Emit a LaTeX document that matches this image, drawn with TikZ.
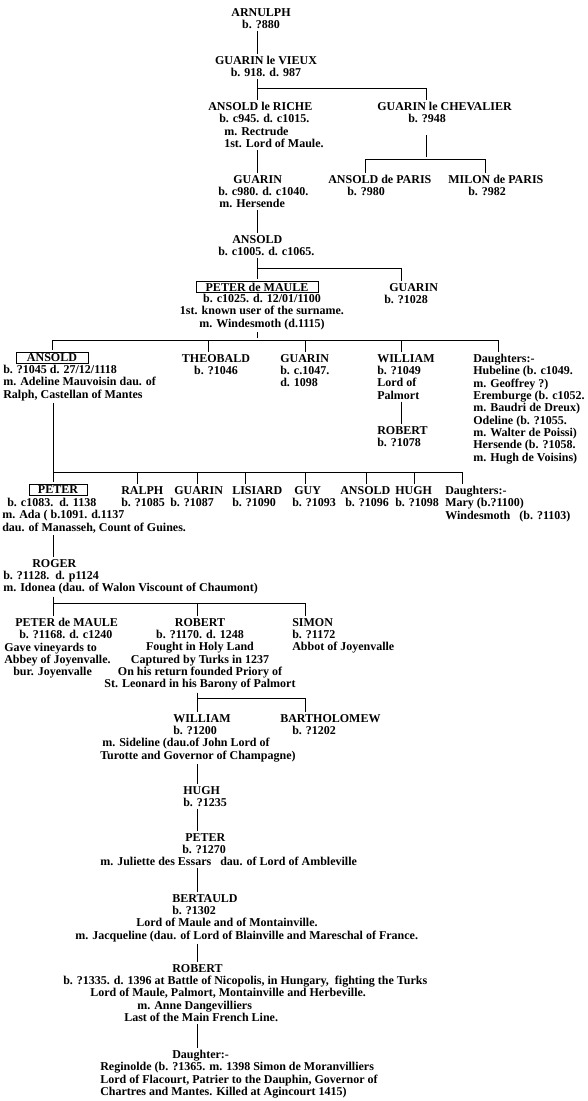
\documentclass[tikz,border=0pt]{standalone}
\usepackage{fontspec}
\setmainfont{Liberation Serif}
\usepackage{tikz}

% one screen pixel of the old chart
\newlength{\pxu}
\setlength{\pxu}{0.75pt}
\newcommand{\ind}[1]{\hspace*{#1\pxu}}

\begin{document}
\begin{tikzpicture}[
    x=0.75pt, y=-0.75pt,
    person/.style={inner sep=0pt, align=left, anchor=north west, font=\bfseries\fontsize{9}{9.25}\selectfont},
    centred/.style={person, align=center, anchor=north},
    namebox/.style={draw, line width=0.75pt, inner sep=0pt, minimum height=8.5pt, font=\bfseries\fontsize{9}{9.25}\selectfont},
    link/.style={line width=0.75pt, shorten >=1.5pt},
    stem/.style={link, shorten <=1.5pt}
]
\useasboundingbox (0,0) rectangle (588,1101);

% stem columns
\coordinate (x52)  at (52,0);
\coordinate (x53)  at (53,0);
\coordinate (x137) at (137,0);
\coordinate (x197) at (197,0);
\coordinate (x208) at (208,0);
\coordinate (x245) at (245,0);
\coordinate (x257) at (257,0);
\coordinate (x305) at (305,0);
\coordinate (x365) at (365,0);
\coordinate (x366) at (366,0);
\coordinate (x401) at (401,0);
\coordinate (x414) at (414,0);
\coordinate (x426) at (426,0);
\coordinate (x462) at (462,0);
\coordinate (x485) at (485,0);
\coordinate (x498) at (498,0);

% first generations
\node[centred] (arnulph) at (261,8) {ARNULPH\\b. ?880};
\node[centred] (vieux) at (266,56) {GUARIN le VIEUX\\b. 918. d. 987};
\node[person] (riche) at (208,102) {ANSOLD le RICHE\\\ind{11}b. c945. d. c1015.\\\ind{16}m. Rectrude\\\ind{16}1st. Lord of Maule.};
\node[person] (chevalier) at (377,102) {GUARIN le CHEVALIER\\\ind{31}b. ?948};
\node[person] (ansoldparis) at (328,175) {ANSOLD de PARIS\\\ind{19}b. ?980};
\node[person] (milon) at (448,175) {MILON de PARIS\\\ind{20}b. ?982};
\node[person] (guarin980) at (218,175) {\ind{15}GUARIN\\b. c980. d. c1040.\\\ind{1}m. Hersende};
\node[person] (ansold1005) at (218,235) {\ind{14}ANSOLD\\b. c1005. d. c1065.};

\draw[stem] (arnulph.south -| x257) -- (vieux.north -| x257);
\coordinate (bus1) at (257,88);
\draw[stem] (vieux.south -| x257) -- (bus1) -| (chevalier.north -| x426);
\draw[link] (bus1) -- (riche.north -| x257);
\coordinate (bus2) at (426,159);
\draw[stem, shorten <=9pt] (chevalier.south -| x426) -- (bus2);
\draw[link] (bus2) -| (ansoldparis.north -| x365);
\draw[link] (bus2) -| (milon.north -| x485);
\draw[stem] (riche.south -| x257) -- (guarin980.north -| x257);
\draw[stem] (guarin980.south -| x257) -- (ansold1005.north -| x257);

% Peter de Maule and brother
\node[namebox, minimum width=91.5pt] (peter1025) at (257,287) {PETER de MAULE};
\node[centred] (peter1025info) at (262,294) {b. c1025. d. 12/01/1100\\1st. known user of the surname.\\m. Windesmoth (d.1115)};
\node[person] (guarin1028) at (384,283) {\ind{5}GUARIN\\b. ?1028};

\coordinate (bus3) at (257,268);
\draw[stem] (ansold1005.south -| x257) -- (peter1025.north);
\draw[link] (bus3) -| (guarin1028.north -| x401);

% children of Peter
\node[namebox, minimum width=54pt] (ansold1045) at (52,358) {ANSOLD};
\node[person] (ansold1045info) at (3,365) {b. ?1045 d. 27/12/1118\\m. Adeline Mauvoisin dau. of\\Ralph, Castellan of Mantes};
\node[centred] (theobald) at (216,354) {THEOBALD\\b. ?1046};
\node[person] (guarin1047) at (280,354) {GUARIN\\b. c.1047.\\d. 1098};
\node[person] (william1049) at (377,354) {WILLIAM\\b. ?1049\\Lord of\\Palmort};
\node[person] (robert1078) at (377,426) {ROBERT\\b. ?1078};
\node[person] (daughters1049) at (473,354) {Daughters:-\\Hubeline (b. c1049.\\m. Geoffrey ?)\\Eremburge (b. c1052.\\m. Baudri de Dreux)\\Odeline (b. ?1055.\\m. Walter de Poissi)\\Hersende (b. ?1058.\\m. Hugh de Voisins)};

\coordinate (bus4) at (257,340);
\draw[stem] (peter1025info.south -| x257) -- (bus4);
\draw[link] (bus4) -| (ansold1045.north -| x52);
\draw[link] (bus4) -| (theobald.north -| x208);
\draw[link] (bus4) -| (guarin1047.north -| x305);
\draw[link] (bus4) -| (william1049.north -| x401);
\draw[link] (bus4) -| (daughters1049.north -| x498);
\draw[stem] (william1049.south -| x401) -- (robert1078.north -| x401);

% children of Ansold
\node[namebox, minimum width=43.5pt] (peter1083) at (58,490) {PETER};
\node[person] (peter1083info) at (2,498) {\ind{5}b. c1083.\ \ d. 1138\\m. Ada ( b.1091. d.1137\\dau. of Manasseh, Count of Guines.};
\node[person] (ralph) at (121,486) {RALPH\\b. ?1085};
\node[person] (guarin1087) at (170,486) {\ind{4}GUARIN\\b. ?1087};
\node[person] (lisiard) at (232,486) {LISIARD\\b. ?1090};
\node[person] (guy) at (292,486) {\ind{2}GUY\\b. ?1093};
\node[person] (ansold1096) at (340,486) {ANSOLD\\\ind{5}b. ?1096};
\node[person] (hugh1098) at (395,486) {HUGH\\b. ?1098};
\node[person] (daughters1100) at (445,486) {Daughters:-\\Mary (b.?1100)\\Windesmoth\ \ \ (b. ?1103)};

\coordinate (bus5) at (53,472);
\draw[stem] (ansold1045info.south -| x53) -- (peter1083.north -| x53);
\draw[link] (bus5) -| (ralph.north -| x137);
\draw[link] (bus5) -| (guarin1087.north -| x197);
\draw[link] (bus5) -| (lisiard.north -| x245);
\draw[link] (bus5) -| (guy.north -| x305);
\draw[link] (bus5) -| (ansold1096.north -| x366);
\draw[link] (bus5) -| (hugh1098.north -| x414);
\draw[link] (bus5) -| (daughters1100.north -| x462);

% Roger and his sons
\node[person] (roger) at (3,559) {\ind{29}ROGER\\b. ?1128.\ \ d. p1124\\m. Idonea (dau. of Walon Viscount of Chaumont)};
\draw[stem] (peter1083info.south -| x53) -- (roger.north -| x53);

\node[person] (peter1168) at (4,618) {\ind{11}PETER de MAULE\\\ind{15}b. ?1168. d. c1240\\Gave vineyards to\\Abbey of Joyenvalle.\\\ind{9}bur. Joyenvalle};
\node[centred] (robert1170) at (200,618) {ROBERT\\b. ?1170. d. 1248\\Fought in Holy Land\\Captured by Turks in 1237\\On his return founded Priory of\\St. Leonard in his Barony of Palmort};
\node[person] (simon) at (292,618) {SIMON\\b. ?1172\\Abbot of Joyenvalle};

\coordinate (bus6) at (53,603);
\draw[stem] (roger.south -| x53) -- (peter1168.north -| x53);
\draw[link] (bus6) -| (robert1170.north -| x197);
\draw[link] (bus6) -| (simon.north -| x305);

% main line down to the last daughter
\node[person] (william1200) at (100,714) {\ind{73}WILLIAM\\\ind{73}b. ?1200\\\ind{2}m. Sideline (dau.of John Lord of\\Turotte and Governor of Champagne)};
\node[person] (bartholomew) at (280,714) {BARTHOLOMEW\\\ind{12}b. ?1202};
\node[person] (hugh1235) at (183,786) {HUGH\\b. ?1235};
\node[person] (peter1270) at (100,833) {\ind{85}PETER\\\ind{82}b. ?1270\\m. Juliette des Essars\ \ \ dau. of Lord of Ambleville};
\node[person] (bertauld) at (75,894) {\ind{97}BERTAULD\\\ind{97}b. ?1302\\\ind{61}Lord of Maule and of Montainville.\\m. Jacqueline (dau. of Lord of Blainville and Mareschal of France.};
\node[person] (robert1335) at (63,964) {\ind{109}ROBERT\\b. ?1335. d. 1396 at Battle of Nicopolis, in Hungary,\ \ fighting the Turks\\\ind{27}Lord of Maule, Palmort, Montainville and Herbeville.\\\ind{74}m. Anne Dangevilliers\\\ind{61}Last of the Main French Line.};
\node[person] (reginolde) at (100,1050) {\ind{72}Daughter:-\\Reginolde (b. ?1365. m. 1398 Simon de Moranvilliers\\Lord of Flacourt, Patrier to the Dauphin, Governor of\\Chartres and Mantes. Killed at Agincourt 1415)};

\coordinate (bus7) at (197,698);
\draw[stem] (robert1170.south -| x197) -- (william1200.north -| x197);
\draw[link] (bus7) -| (bartholomew.north -| x305);
\draw[stem] (william1200.south -| x197) -- (hugh1235.north -| x197);
\draw[stem] (hugh1235.south -| x197) -- (peter1270.north -| x197);
\draw[stem] (peter1270.south -| x197) -- (bertauld.north -| x197);
\draw[stem] (bertauld.south -| x197) -- (robert1335.north -| x197);
\draw[stem] (robert1335.south -| x197) -- (reginolde.north -| x197);
\end{tikzpicture}
\end{document}
